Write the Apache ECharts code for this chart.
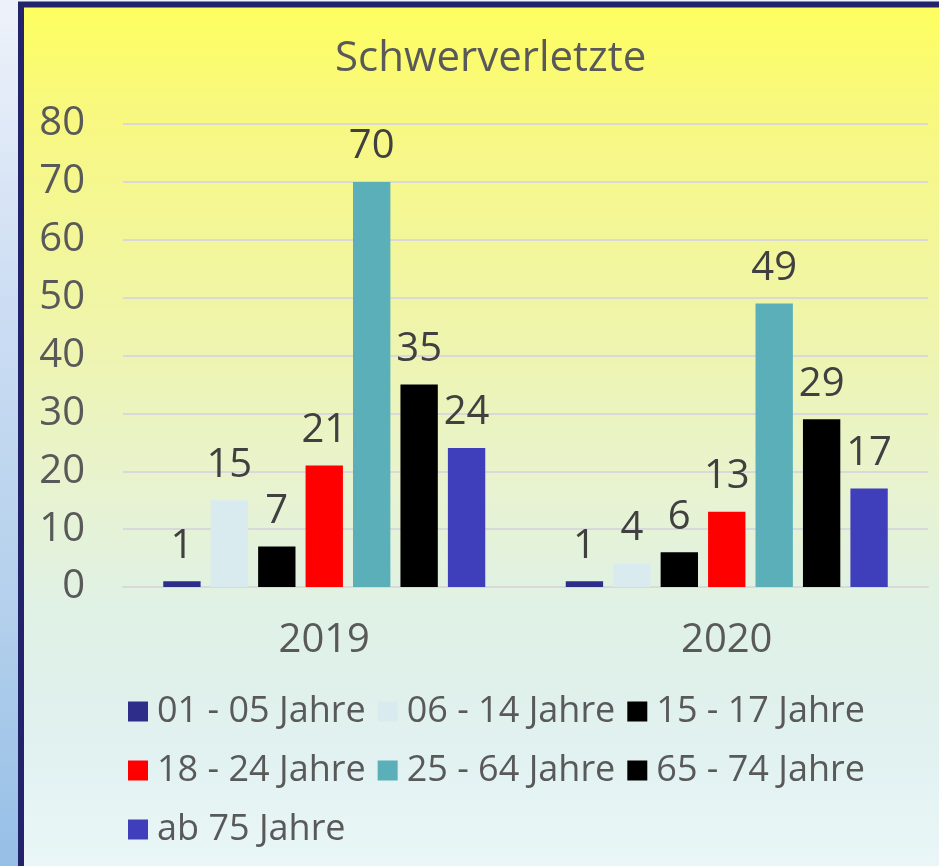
<!DOCTYPE html>
<html>
<head>
<meta charset="utf-8">
<title>Schwerverletzte</title>
<script src="https://cdn.jsdelivr.net/npm/echarts@6/dist/echarts.min.js"></script>
<style>
  html, body { margin: 0; padding: 0; }
  #chart { width: 939px; height: 866px; }
</style>
</head>
<body>
<div id="chart"></div>
<script>
// Jahre (x-Achse)
var years = ['2019', '2020'];

// Altersgruppen
var groups = ['01 - 05 Jahre', '06 - 14 Jahre', '15 - 17 Jahre', '18 - 24 Jahre',
              '25 - 64 Jahre', '65 - 74 Jahre', 'ab 75 Jahre'];

// Werte je Altersgruppe: [2019, 2020]
var age0105 = [1, 1];
var age0614 = [15, 4];
var age1517 = [7, 6];
var age1824 = [21, 13];
var age2564 = [70, 49];
var age6574 = [35, 29];
var age75 = [24, 17];

var values = [age0105, age0614, age1517, age1824, age2564, age6574, age75];
var colors = ['#2E2E8A', '#DAEBF0', '#000000', '#FF0000', '#5BAFB8', '#000000', '#3F3FBC'];

var font = '"Open Sans", "Noto Sans", sans-serif';

var myChart = echarts.init(document.getElementById('chart'));

var series = [];
for (var i = 0; i < groups.length; i++) {
    series.push({
        name: groups[i],
        type: 'bar',
        data: values[i],
        barGap: '27%',
        barCategoryGap: '20%',
        itemStyle: { color: colors[i] },
        label: {
            show: true,
            position: 'top',
            distance: 15,
            color: '#404040',
            fontFamily: font,
            fontSize: 40
        }
    });
}

var option = {
    backgroundColor: new echarts.graphic.LinearGradient(0, 0, 0, 1, [
        { offset: 0, color: '#EEF2FA' },
        { offset: 0.35, color: '#CCDDF3' },
        { offset: 0.7, color: '#B4D0EC' },
        { offset: 1, color: '#96BFE6' }
    ]),
    graphic: [{
        type: 'rect',
        z: -10,
        silent: true,
        shape: { x: 21, y: 4.5, width: 1000, height: 1000 },
        style: {
            fill: new echarts.graphic.LinearGradient(0, 0, 0, 0.862, [
                { offset: 0, color: '#FFFF5E' },
                { offset: 0.12, color: '#F8F87E' },
                { offset: 0.35, color: '#F0F5A6' },
                { offset: 0.55, color: '#E8F3CE' },
                { offset: 0.7, color: '#E0F1E6' },
                { offset: 0.85, color: '#E0F1F0' },
                { offset: 1, color: '#EAF6F7' }
            ]),
            stroke: '#23236B',
            lineWidth: 6
        }
    }],
    title: {
        text: 'Schwerverletzte',
        left: 330,
        top: 33,
        textStyle: {
            color: '#595959',
            fontFamily: font,
            fontWeight: 'normal',
            fontSize: 42
        }
    },
    legend: {
        data: groups,
        left: 128,
        top: 688,
        width: 760,
        padding: 0,
        itemWidth: 20,
        itemHeight: 20,
        itemGap: 12,
        icon: 'rect',
        textStyle: {
            color: '#595959',
            fontFamily: font,
            fontSize: 36,
            lineHeight: 47,
            padding: [0, 0, 0, 4]
        }
    },
    grid: {
        left: 123,
        right: 11,
        top: 124,
        bottom: 279
    },
    xAxis: {
        type: 'category',
        data: years,
        axisTick: { show: false },
        axisLine: { lineStyle: { color: '#D9D9D9', width: 2 } },
        axisLabel: {
            margin: 34,
            color: '#595959',
            fontFamily: font,
            fontSize: 40
        }
    },
    yAxis: {
        type: 'value',
        min: 0,
        max: 80,
        interval: 10,
        axisLine: { show: false },
        axisTick: { show: false },
        splitLine: { lineStyle: { color: '#D9D9D9', width: 2 } },
        axisLabel: {
            margin: 38,
            color: '#595959',
            fontFamily: font,
            fontSize: 40
        }
    },
    series: series
};

myChart.setOption(option, true);
</script>
</body>
</html>
